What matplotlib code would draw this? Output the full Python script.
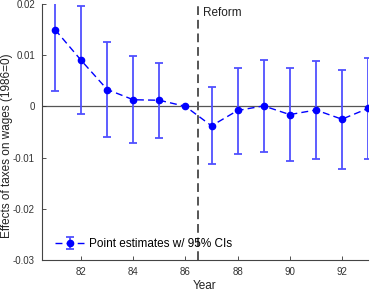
import numpy as np
import matplotlib.pyplot as plt

plt.rcParams['font.family'] = ['Liberation Sans', 'DejaVu Sans']

# estimates
years = [81, 82, 83, 84, 85, 86, 87, 88, 89, 90, 91, 92, 93]
est = [0.0150, 0.0090, 0.0033, 0.0013, 0.0012, 0.0, -0.0038, -0.0008, 0.0001,
       -0.0016, -0.0007, -0.0025, -0.0004]
ci_hi = [0.0205, 0.0196, 0.0125, 0.0098, 0.0085, 0.0, 0.0038, 0.0075, 0.0091,
         0.0075, 0.0088, 0.0072, 0.0095]
ci_lo = [0.0031, -0.0015, -0.0059, -0.0072, -0.0062, 0.0, -0.0113, -0.0092,
         -0.0089, -0.0107, -0.0103, -0.0123, -0.0102]
xticks = [82, 84, 86, 88, 90, 92]
yticks = [-0.03, -0.02, -0.01, 0, 0.01, 0.02]
yticklabels = ['-0.03', '-0.02', '-0.01', '0', '0.01', '0.02']
reform_year = 86.5

est = np.array(est)
yerr = [est - np.array(ci_lo), np.array(ci_hi) - est]

fig = plt.figure(figsize=(3.72, 2.92), dpi=100)
ax = fig.add_axes([42/372, 1 - 260/292, 326/372, 256/292])

ax.axhline(0, color='#555555', lw=0.9, zorder=1)
ax.axvline(reform_year, color='#555555', lw=1.4, ls=(0, (4.5, 2.5)), zorder=1)
ax.text(reform_year + 0.17, 0.0195, 'Reform', fontsize=8.5, ha='left', va='top', color='#222222')

ax.errorbar(years, est, yerr=yerr, fmt='o', color='#0000ff', ecolor='#5050ff',
            elinewidth=1.3, capsize=3, capthick=1.3, ms=4.5, ls=(0, (5, 3)), lw=1,
            label='Point estimates w/ 95% CIs', zorder=3)

ax.set_xlim(80.5, 93)
ax.set_ylim(-0.03, 0.02)
ax.set_xticks(xticks)
ax.set_yticks(yticks)
ax.set_yticklabels(yticklabels)
ax.tick_params(direction='in', length=3, width=0.6, labelsize=7, colors='#333333', pad=5)
for s in ['top', 'right']:
    ax.spines[s].set_visible(False)
for s in ['left', 'bottom']:
    ax.spines[s].set_color('#444444')
    ax.spines[s].set_linewidth(0.8)

ax.set_xlabel('Year', fontsize=8.5, color='#222222', labelpad=2)
ax.set_ylabel('Effects of taxes on wages (1986=0)', fontsize=8.5, color='#222222',
              va='center', ha='center')
ax.yaxis.set_label_coords(7/372, 1 - 146/292, transform=fig.transFigure)

ax.legend(loc='lower left', frameon=False, fontsize=8.5, handlelength=2.5,
          bbox_to_anchor=(0.025, 0.02), borderaxespad=0, handletextpad=0.4)

plt.savefig('out.png', dpi=100)
